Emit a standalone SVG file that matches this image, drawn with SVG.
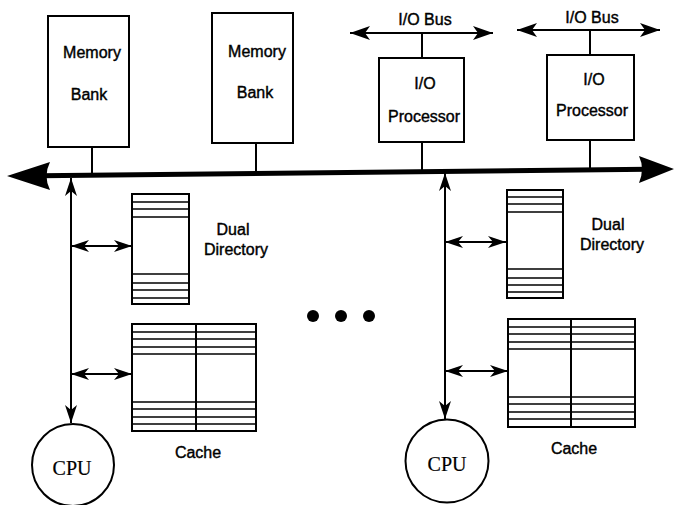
<svg xmlns="http://www.w3.org/2000/svg" width="674" height="505" viewBox="0 0 674 505">
  <style>
    .box { fill: #fff; stroke: #000; stroke-width: 2; }
    .row { stroke: #000; stroke-width: 1.6; fill: none; }
    .wire { stroke: #000; stroke-width: 2; fill: none; }
    .lbl { font-family: "Liberation Sans", Arial, sans-serif; font-size: 16px; fill: #000; stroke: #000; stroke-width: 0.4; text-anchor: middle; }
    .cpu { font-family: "Liberation Serif", "Times New Roman", serif; font-size: 20px; fill: #000; stroke: #000; stroke-width: 0.2; text-anchor: middle; }
  </style>
  <defs>
    <marker id="head" markerUnits="userSpaceOnUse" viewBox="-18 -6.5 18 13" refX="0" refY="0" markerWidth="18" markerHeight="13" orient="auto-start-reverse">
      <path d="M0,0 L-18,-6 L-13,0 L-18,6 Z" fill="#000"/>
    </marker>
    <marker id="bushead" markerUnits="userSpaceOnUse" viewBox="-20 -7.5 20 15" refX="0" refY="0" markerWidth="20" markerHeight="15" orient="auto-start-reverse">
      <path d="M0,0 L-20,-7 L-15,0 L-20,7 Z" fill="#000"/>
    </marker>
  </defs>
  <rect width="674" height="505" fill="#fff"/>

  <!-- system bus with its two heavy arrowheads -->
  <g id="system-bus">
    <line x1="40" y1="175.7" x2="648" y2="169.3" stroke="#000" stroke-width="5"/>
    <path d="M7,176 L50,162 Q43,176 50,190 Z" fill="#000"/>
    <path d="M674,169 L639,156 Q645,169 639,183 Z" fill="#000"/>
  </g>

  <!-- connectors -->
  <g id="connectors">
    <line class="wire" x1="92" y1="147" x2="92" y2="175"/>
    <line class="wire" x1="256" y1="143" x2="256" y2="173.5"/>
    <line class="wire" x1="422" y1="142" x2="422" y2="171.5"/>
    <line class="wire" x1="422" y1="58" x2="422" y2="33"/>
    <line class="wire" x1="590" y1="140" x2="590" y2="170"/>
    <line class="wire" x1="590" y1="55" x2="590" y2="30"/>
    <!-- I/O buses -->
    <line class="wire" x1="350" y1="33" x2="493" y2="33" stroke-width="2.5" marker-start="url(#bushead)" marker-end="url(#bushead)"/>
    <line class="wire" x1="517" y1="30" x2="660" y2="30" stroke-width="2.5" marker-start="url(#bushead)" marker-end="url(#bushead)"/>
    <!-- processor 1 links -->
    <line class="wire" x1="71" y1="178" x2="71" y2="423" marker-start="url(#head)" marker-end="url(#head)"/>
    <line class="wire" x1="71" y1="246" x2="132" y2="246" marker-start="url(#head)" marker-end="url(#head)"/>
    <line class="wire" x1="71" y1="374" x2="132" y2="374" marker-start="url(#head)" marker-end="url(#head)"/>
    <!-- processor 2 links -->
    <line class="wire" x1="445" y1="173" x2="445" y2="419" marker-start="url(#head)" marker-end="url(#head)"/>
    <line class="wire" x1="445" y1="242" x2="506" y2="242" marker-start="url(#head)" marker-end="url(#head)"/>
    <line class="wire" x1="445" y1="371" x2="508" y2="371" marker-start="url(#head)" marker-end="url(#head)"/>
  </g>

  <g id="memory-bank-1">
    <rect class="box" x="48" y="16" width="81" height="131"/>
    <text class="lbl" x="92" y="58">Memory</text>
    <text class="lbl" x="89" y="100">Bank</text>
  </g>
  <g id="memory-bank-2">
    <rect class="box" x="212" y="13" width="81" height="130"/>
    <text class="lbl" x="257" y="57">Memory</text>
    <text class="lbl" x="255" y="98">Bank</text>
  </g>

  <g id="io-processor-1">
    <rect class="box" x="379" y="58" width="85" height="84"/>
    <text class="lbl" x="425" y="89">I/O</text>
    <text class="lbl" x="424" y="122">Processor</text>
    <text class="lbl" x="425" y="25">I/O Bus</text>
  </g>
  <g id="io-processor-2">
    <rect class="box" x="547" y="55" width="87" height="85"/>
    <text class="lbl" x="594" y="85">I/O</text>
    <text class="lbl" x="592" y="116">Processor</text>
    <text class="lbl" x="592" y="23">I/O Bus</text>
  </g>

  <g id="dual-directory-1">
    <rect class="box" x="132" y="194" width="57" height="110"/>
    <path class="row" d="M132,202 H189 M132,209 H189 M132,217 H189 M132,274 H189 M132,283 H189 M132,290 H189 M132,298 H189"/>
    <text class="lbl" x="233" y="235">Dual</text>
    <text class="lbl" x="236" y="255">Directory</text>
  </g>
  <g id="dual-directory-2">
    <rect class="box" x="507" y="190" width="56" height="108"/>
    <path class="row" d="M507,197 H563 M507,204 H563 M507,212 H563 M507,269 H563 M507,278 H563 M507,285 H563 M507,292 H563"/>
    <text class="lbl" x="608" y="230">Dual</text>
    <text class="lbl" x="612" y="250">Directory</text>
  </g>

  <g id="cache-1">
    <rect class="box" x="132" y="324" width="124" height="107"/>
    <path class="row" d="M132,332 H256 M132,339 H256 M132,347 H256 M132,354 H256 M132,402 H256 M132,409 H256 M132,417 H256 M132,424 H256"/>
    <line class="wire" x1="196" y1="324" x2="196" y2="431"/>
    <text class="lbl" x="198" y="458">Cache</text>
  </g>
  <g id="cache-2">
    <rect class="box" x="508" y="319" width="127" height="108"/>
    <path class="row" d="M508,327 H635 M508,334 H635 M508,342 H635 M508,349 H635 M508,397 H635 M508,404 H635 M508,412 H635 M508,419 H635"/>
    <line class="wire" x1="571" y1="319" x2="571" y2="427"/>
    <text class="lbl" x="574" y="454">Cache</text>
  </g>

  <g id="cpu-1">
    <circle class="box" cx="73" cy="465" r="41"/>
    <text class="cpu" x="72" y="475">CPU</text>
  </g>
  <g id="cpu-2">
    <circle class="box" cx="447" cy="461" r="41.5"/>
    <text class="cpu" x="447" y="471">CPU</text>
  </g>

  <g id="ellipsis">
    <circle cx="313" cy="316" r="6" fill="#000"/>
    <circle cx="341" cy="316" r="6" fill="#000"/>
    <circle cx="369" cy="316" r="6" fill="#000"/>
  </g>
</svg>
